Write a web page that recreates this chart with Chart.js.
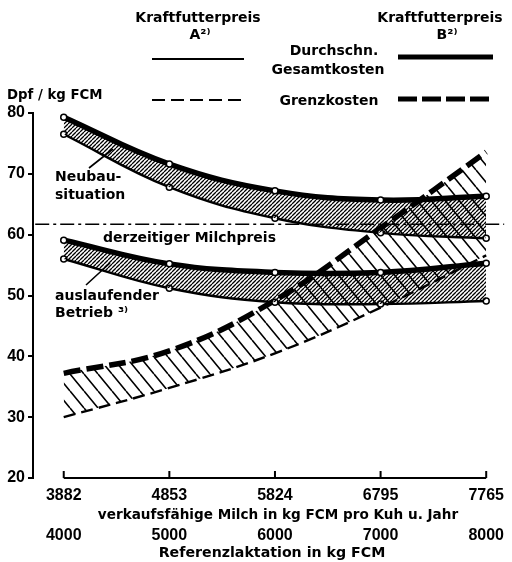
<!DOCTYPE html>
<html><head><meta charset="utf-8">
<script src="https://cdn.jsdelivr.net/npm/chart.js@4/dist/chart.umd.min.js"></script>
<style>html,body{margin:0;padding:0;background:#fff;}canvas{display:block;}</style>
</head><body>
<canvas id="c" width="512" height="562"></canvas>
<script>
// ---- data ----
const xIndex = [0, 1, 2, 3, 4];
const xLabels1 = ['3882', '4853', '5824', '6795', '7765'];
const xLabels2 = ['4000', '5000', '6000', '7000', '8000'];
const xTitle1 = 'verkaufsfähige Milch in kg FCM pro Kuh u. Jahr';
const xTitle2 = 'Referenzlaktation in kg FCM';
const yTicks = [20, 30, 40, 50, 60, 70, 80];
const neubauB = [79.3, 71.6, 67.2, 65.7, 66.3];   // Kraftfutterpreis B, Gesamtkosten
const neubauA = [76.5, 67.8, 62.7, 60.3, 59.4];   // Kraftfutterpreis A, Gesamtkosten
const auslaufB = [59.1, 55.2, 53.8, 53.8, 55.3];
const auslaufA = [56.0, 51.2, 48.9, 48.6, 49.1];
const grenzB = [37.2, 40.9, 49.2, 61.1, 73.6];    // Grenzkosten B
const grenzA = [30.0, 34.8, 40.5, 48.0, 56.6];    // Grenzkosten A
const milchpreis = 61.7;
const milchpreisX = [-0.27, 4.17];

const toXY = arr => arr.map((v, i) => ({x: xIndex[i], y: v}));

function hatch(w, h, lw, dir) {
  const c = document.createElement('canvas');
  c.width = w; c.height = h;
  const g = c.getContext('2d');
  g.strokeStyle = '#000'; g.lineWidth = lw;
  g.beginPath();
  for (let k = -1; k <= 1; k++) {
    if (dir === '/') { g.moveTo(k * w, h); g.lineTo(k * w + w, 0); }
    else { g.moveTo(k * w, 0); g.lineTo(k * w + w, h); }
  }
  g.stroke();
  return g.createPattern(c, 'repeat');
}
const dense = hatch(4, 4, 1.3, '/');
const sparse = hatch(14, 17, 1.6, '\\');

const WORD = 'bold 14px "DejaVu Sans"';

const lineBase = {borderColor: '#000', tension: 0.4, clip: false, pointRadius: 0, pointHoverRadius: 0};
const withPts = {pointRadius: 3, pointBackgroundColor: '#fff', pointBorderColor: '#000', pointBorderWidth: 1.5};

const overlay = {
  id: 'overlay',
  afterDatasetsDraw(chart) {
    const ctx = chart.ctx;
    const xs = chart.scales.x;
    ctx.save();
    ctx.fillStyle = '#000'; ctx.strokeStyle = '#000';
    // x axis line with upward ticks
    const yb = chart.chartArea.bottom;
    const x0 = xs.getPixelForValue(xIndex[0]), x4 = xs.getPixelForValue(xIndex[xIndex.length - 1]);
    ctx.lineWidth = 2; ctx.setLineDash([]);
    ctx.beginPath(); ctx.moveTo(x0, yb); ctx.lineTo(x4, yb);
    xIndex.forEach(i => { const px = xs.getPixelForValue(i); ctx.moveTo(px, yb); ctx.lineTo(px, yb - 7); });
    ctx.stroke();

    // axis titles
    ctx.textAlign = 'center'; ctx.textBaseline = 'middle';
    ctx.font = 'bold 13.6px "DejaVu Sans"';
    ctx.fillText(xTitle1, 278, 515);
    ctx.font = 'bold 14.2px "DejaVu Sans"';
    ctx.fillText(xTitle2, 272, 553);

    // legend
    ctx.font = WORD;
    ctx.fillText('Kraftfutterpreis', 198, 18);
    ctx.fillText('A²⁾', 200, 35);
    ctx.fillText('Kraftfutterpreis', 440, 18);
    ctx.fillText('B²⁾', 447, 35);
    ctx.fillText('Durchschn.', 334, 51);
    ctx.fillText('Gesamtkosten', 328, 70);
    ctx.fillText('Grenzkosten', 329, 101);
    ctx.lineWidth = 2.2; ctx.beginPath(); ctx.moveTo(152, 59); ctx.lineTo(244, 59); ctx.stroke();
    ctx.lineWidth = 5; ctx.beginPath(); ctx.moveTo(398, 57); ctx.lineTo(493, 57); ctx.stroke();
    ctx.lineWidth = 2.2; ctx.setLineDash([13, 6]); ctx.beginPath(); ctx.moveTo(152, 100); ctx.lineTo(244, 100); ctx.stroke();
    ctx.lineWidth = 5; ctx.setLineDash([19, 5]); ctx.beginPath(); ctx.moveTo(398, 99); ctx.lineTo(493, 99); ctx.stroke();
    ctx.setLineDash([]);

    // y title
    ctx.textAlign = 'left';
    ctx.font = 'bold 13.3px "DejaVu Sans"';
    ctx.fillText('Dpf / kg FCM', 7, 96);

    // annotations
    ctx.font = WORD;
    ctx.fillText('Neubau-', 55, 177);
    ctx.fillText('situation', 55, 195);
    ctx.fillText('derzeitiger Milchpreis', 103, 238);
    ctx.fillText('auslaufender', 55, 296);
    ctx.fillText('Betrieb ³⁾', 55, 313);
    ctx.lineWidth = 1.6;
    ctx.beginPath(); ctx.moveTo(89, 168); ctx.lineTo(113, 149);
    ctx.moveTo(86, 285); ctx.lineTo(110, 263); ctx.stroke();
    ctx.restore();
  }
};

new Chart(document.getElementById('c'), {
  type: 'line',
  data: {
    datasets: [
      Object.assign({label: 'Neubau B', data: toXY(neubauB), borderWidth: 5.5,
        fill: {target: 1, above: dense, below: dense}}, lineBase, withPts),
      Object.assign({label: 'Neubau A', data: toXY(neubauA), borderWidth: 2.4, fill: false}, lineBase, withPts),
      Object.assign({label: 'auslaufend B', data: toXY(auslaufB), borderWidth: 5.5,
        fill: {target: 3, above: dense, below: dense}}, lineBase, withPts),
      Object.assign({label: 'auslaufend A', data: toXY(auslaufA), borderWidth: 2.4, fill: false}, lineBase, withPts),
      Object.assign({label: 'Grenzkosten B', data: toXY(grenzB), borderWidth: 5.5, borderDash: [17, 6],
        fill: {target: 5, above: sparse, below: sparse}}, lineBase),
      Object.assign({label: 'Grenzkosten A', data: toXY(grenzA), borderWidth: 2.4, borderDash: [12, 6], fill: false}, lineBase),
      Object.assign({label: 'Milchpreis', data: milchpreisX.map(x => ({x, y: milchpreis})), borderWidth: 1.5,
        borderDash: [14, 4, 3, 4], fill: false}, lineBase, {tension: 0})
    ]
  },
  options: {
    responsive: false, animation: false, devicePixelRatio: 1,
    layout: {padding: {top: 113, right: 22, left: 0, bottom: 0}},
    plugins: {legend: {display: false}, tooltip: {enabled: false}},
    scales: {
      x: {
        type: 'linear', position: 'bottom', min: -0.291, max: 4,
        grid: {display: false, drawTicks: false}, border: {display: false},
        afterBuildTicks: s => { s.ticks = xIndex.map(v => ({value: v})); },
        afterFit: s => { s.height = 46; },
        ticks: {callback: v => xLabels1[v], font: {family: 'Liberation Sans', size: 16, weight: 'bold'},
          color: '#000', padding: 8, maxRotation: 0, autoSkip: false}
      },
      x2: {
        type: 'linear', position: 'bottom', min: -0.291, max: 4,
        grid: {display: false, drawTicks: false}, border: {display: false},
        afterBuildTicks: s => { s.ticks = xIndex.map(v => ({value: v})); },
        afterFit: s => { s.height = 38; },
        ticks: {callback: v => xLabels2[v], font: {family: 'Liberation Sans', size: 16, weight: 'bold'},
          color: '#000', padding: 2, maxRotation: 0, autoSkip: false}
      },
      y: {
        type: 'linear', position: 'left', min: 20, max: 80,
        afterBuildTicks: s => { s.ticks = yTicks.map(v => ({value: v})); },
        afterFit: s => { s.width = 33; },
        grid: {drawOnChartArea: false, drawTicks: true, tickLength: 5, color: '#000', lineWidth: 2},
        border: {display: true, color: '#000', width: 2},
        ticks: {font: {family: 'Liberation Sans', size: 16, weight: 'bold'}, color: '#000', padding: 3}
      }
    }
  },
  plugins: [overlay]
});
</script>
</body></html>
